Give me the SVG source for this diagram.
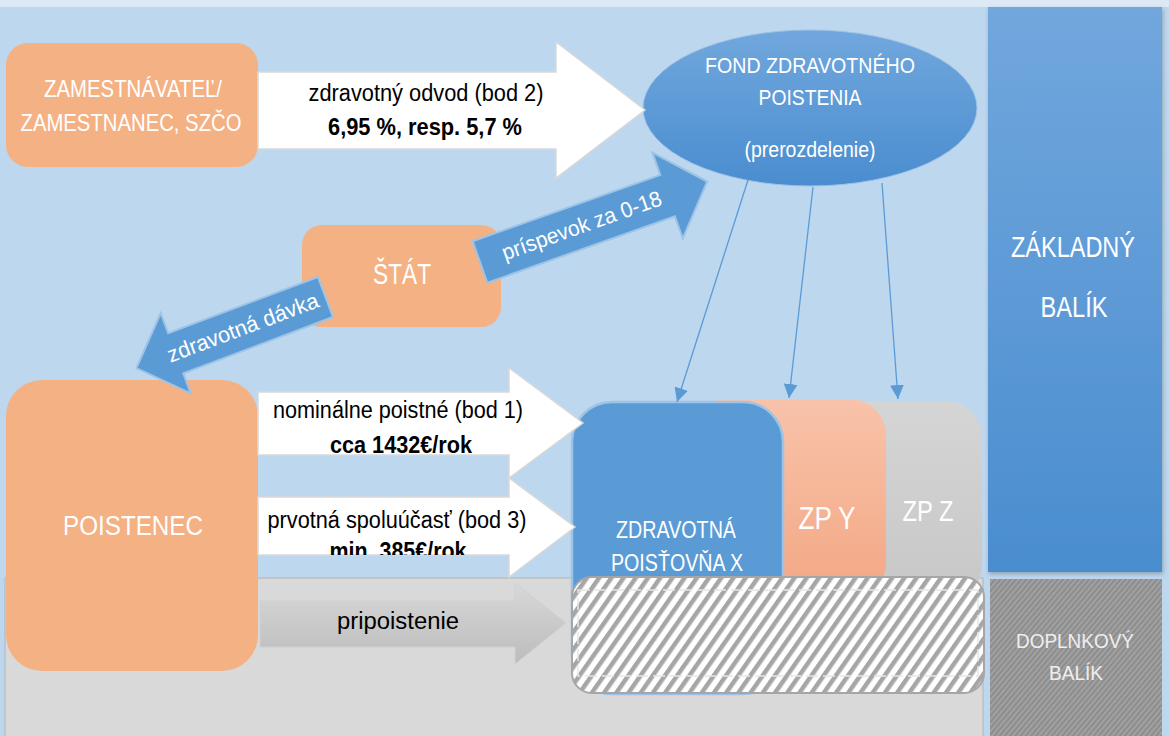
<svg xmlns="http://www.w3.org/2000/svg" width="1169" height="736" viewBox="0 0 1169 736">
<defs>
<style>
.t{font-family:"Liberation Sans Narrow","Liberation Sans",Arial,sans-serif;}
.w{fill:#ffffff;}
.k{fill:#000000;}
.b{font-weight:bold;}
.sal{fill:#f4b183;}
.white-arrow{fill:#ffffff;stroke:#d9d9d9;stroke-width:1.5;}
.blue-arrow{fill:#5b9bd5;stroke:#9dc3e6;stroke-width:2;}
.conn{stroke:#5b9bd5;stroke-width:1.3;fill:none;}
</style>
<linearGradient id="gBlue" x1="0" y1="0" x2="0" y2="1">
<stop offset="0" stop-color="#71a7dd"/><stop offset="1" stop-color="#4a8dcf"/>
</linearGradient>
<linearGradient id="gY" x1="0" y1="0" x2="0" y2="1">
<stop offset="0" stop-color="#f8c3aa"/><stop offset="1" stop-color="#f3a784"/>
</linearGradient>
<linearGradient id="gZ" x1="0" y1="0" x2="0" y2="1">
<stop offset="0" stop-color="#d5d5d5"/><stop offset="1" stop-color="#c7c7c7"/>
</linearGradient>
<linearGradient id="gGray" x1="0" y1="0" x2="0" y2="1">
<stop offset="0" stop-color="#d8d8d8"/><stop offset="1" stop-color="#bcbcbc"/>
</linearGradient>
<pattern id="hatch" width="10" height="10" patternUnits="userSpaceOnUse" patternTransform="rotate(35)">
<rect width="10" height="10" fill="#ffffff"/>
<rect width="4.5" height="10" fill="#a6a6a6"/>
</pattern>
<pattern id="fine" width="4" height="4" patternUnits="userSpaceOnUse" patternTransform="rotate(40)">
<rect width="4" height="4" fill="#8e8e8e"/>
<rect width="1.4" height="4" fill="#a8a8a8"/>
</pattern>
<marker id="ah" markerUnits="userSpaceOnUse" markerWidth="15" markerHeight="14" refX="14" refY="7" orient="auto">
<path d="M0,0 L14,7 L0,14 z" fill="#5b9bd5"/>
</marker>
<filter id="sh" x="-10%" y="-10%" width="120%" height="120%">
<feDropShadow dx="1" dy="2" stdDeviation="2" flood-color="#000000" flood-opacity="0.25"/>
</filter>
<clipPath id="clipMin"><rect x="258" y="497" width="260" height="58"/></clipPath>
</defs>

<!-- background -->
<rect x="0" y="0" width="1169" height="736" fill="#dce9f5"/>
<rect x="0" y="7" width="1169" height="729" fill="#bdd7ee"/>
<rect x="5" y="578" width="978" height="160" fill="#d9d9d9" stroke="#b3b3b3" stroke-width="1"/>

<!-- right columns -->
<g id="zakladny-balik">
<rect x="988" y="7" width="174" height="565" fill="url(#gBlue)" filter="url(#sh)"/>
<text class="t w" x="1073" y="257" font-size="30" text-anchor="middle" textLength="124" lengthAdjust="spacingAndGlyphs">ZÁKLADNÝ</text>
<text class="t w" x="1074" y="317" font-size="30" text-anchor="middle" textLength="67" lengthAdjust="spacingAndGlyphs">BALÍK</text>
</g>
<g id="doplnkovy-balik">
<rect x="990" y="579" width="172" height="160" fill="url(#fine)"/>
<text class="t" fill="#eeeeee" x="1075" y="648" font-size="21" text-anchor="middle" textLength="118" lengthAdjust="spacingAndGlyphs">DOPLNKOVÝ</text>
<text class="t" fill="#eeeeee" x="1076" y="680" font-size="21" text-anchor="middle" textLength="54" lengthAdjust="spacingAndGlyphs">BALÍK</text>
</g>

<!-- nodes -->
<g id="zamestnavatel">
<rect x="6" y="43" width="252" height="124" rx="22" class="sal"/>
<text class="t w" x="133" y="97" font-size="24" text-anchor="middle" textLength="178" lengthAdjust="spacingAndGlyphs">ZAMESTNÁVATEĽ/</text>
<text class="t w" x="131" y="131" font-size="24" text-anchor="middle" textLength="221" lengthAdjust="spacingAndGlyphs">ZAMESTNANEC, SZČO</text>
</g>

<g id="fond">
<ellipse cx="810" cy="108" rx="167" ry="78" fill="url(#gBlue)" stroke="#9dc3e6" stroke-width="1"/>
<text class="t w" x="810" y="73" font-size="22" text-anchor="middle" textLength="210" lengthAdjust="spacingAndGlyphs">FOND ZDRAVOTNÉHO</text>
<text class="t w" x="810" y="105" font-size="22" text-anchor="middle" textLength="103" lengthAdjust="spacingAndGlyphs">POISTENIA</text>
<text class="t w" x="810" y="157" font-size="22" text-anchor="middle" textLength="131" lengthAdjust="spacingAndGlyphs">(prerozdelenie)</text>
</g>

<g id="stat">
<rect x="302" y="225" width="199" height="102" rx="20" class="sal"/>
<text class="t w" x="402" y="284" font-size="29" text-anchor="middle" textLength="58" lengthAdjust="spacingAndGlyphs">ŠTÁT</text>
</g>

<g id="poistenec">
<rect x="6" y="380" width="252" height="291" rx="36" class="sal"/>
<text class="t w" x="133" y="535" font-size="27" text-anchor="middle" textLength="140" lengthAdjust="spacingAndGlyphs">POISTENEC</text>
</g>

<g id="zp-z">
<rect x="790" y="401" width="192" height="200" rx="36" fill="url(#gZ)"/>
<text class="t w" x="928" y="521" font-size="30" text-anchor="middle" textLength="51" lengthAdjust="spacingAndGlyphs">ZP Z</text>
</g>
<g id="zp-y">
<rect x="690" y="399" width="196" height="200" rx="36" fill="url(#gY)"/>
<text class="t w" x="827" y="529" font-size="31" text-anchor="middle" textLength="57" lengthAdjust="spacingAndGlyphs">ZP Y</text>
</g>
<g id="zp-x">
<rect x="572" y="402" width="211" height="292" rx="40" fill="#5b9bd5" stroke="#9dc3e6" stroke-width="2.5"/>
<text class="t w" x="676" y="538" font-size="23" text-anchor="middle" textLength="120" lengthAdjust="spacingAndGlyphs">ZDRAVOTNÁ</text>
<text class="t w" x="677" y="571" font-size="23" text-anchor="middle" textLength="132" lengthAdjust="spacingAndGlyphs">POISŤOVŇA X</text>
</g>

<g id="pripoistenie-box">
<rect x="572" y="577" width="412" height="116" rx="20" fill="url(#hatch)" stroke="#a6a6a6" stroke-width="2"/>
<rect x="578" y="590" width="400" height="86" fill="none" stroke="#e6e6e6" stroke-width="1.5" stroke-dasharray="12 5"/>
</g>

<!-- connectors -->
<g id="connectors">
<g id="arrow-odvod">
<polygon class="white-arrow" points="258,72 556,72 556,42 645,110 556,178 556,149 258,149"/>
<text class="t k" x="426" y="101" font-size="23" text-anchor="middle" textLength="235" lengthAdjust="spacingAndGlyphs">zdravotný odvod (bod 2)</text>
<text class="t k b" x="425" y="135" font-size="23" text-anchor="middle" textLength="194" lengthAdjust="spacingAndGlyphs">6,95 %, resp. 5,7 %</text>
</g>
<g id="arrow-prispevok">
<polygon class="blue-arrow" transform="translate(480,262) rotate(-19.5)" points="0,-22 199,-22 199,-45.5 241,0 199,45.5 199,22 0,22"/>
<text class="t w" transform="translate(480,262) rotate(-19.5)" x="108" y="7" font-size="22" text-anchor="middle" textLength="168" lengthAdjust="spacingAndGlyphs">príspevok za 0-18</text>
</g>
<g id="arrow-davka">
<polygon class="blue-arrow" transform="translate(325.5,297) rotate(159.4)" points="0,-21.4 160,-21.4 160,-42.8 202,0 160,42.8 160,21.4 0,21.4"/>
<text class="t w" transform="translate(243,328) rotate(-20.6)" x="0" y="7" font-size="22" text-anchor="middle" textLength="160" lengthAdjust="spacingAndGlyphs">zdravotná dávka</text>
</g>
<g id="arrow-nominalne">
<polygon class="white-arrow" points="258,392 509,392 509,368 583,423 509,478 509,455 258,455"/>
<text class="t k" x="398" y="418" font-size="23" text-anchor="middle" textLength="250" lengthAdjust="spacingAndGlyphs">nominálne poistné (bod 1)</text>
<text class="t k b" x="401" y="453" font-size="23" text-anchor="middle" textLength="142" lengthAdjust="spacingAndGlyphs">cca 1432€/rok</text>
</g>
<g id="arrow-spoluucast">
<polygon class="white-arrow" points="258,497 509,497 509,478 575,527 509,577 509,555 258,555"/>
<text class="t k" x="397" y="528" font-size="23" text-anchor="middle" textLength="259" lengthAdjust="spacingAndGlyphs">prvotná spoluúčasť (bod 3)</text>
<text class="t k b" x="398" y="559" font-size="23" text-anchor="middle" textLength="137" lengthAdjust="spacingAndGlyphs" clip-path="url(#clipMin)">min. 385€/rok</text>
</g>
<g id="arrow-pripoistenie">
<polygon points="260,601 515,601 515,583 566,623 515,664 515,647 260,647" fill="url(#gGray)" stroke="#d0d0d0" stroke-width="1"/>
<text class="t k" x="398" y="629" font-size="23" text-anchor="middle" textLength="122" lengthAdjust="spacingAndGlyphs">pripoistenie</text>
</g>
<line class="conn" x1="748" y1="180" x2="677" y2="402" marker-end="url(#ah)"/>
<line class="conn" x1="813" y1="187" x2="789" y2="398" marker-end="url(#ah)"/>
<line class="conn" x1="882" y1="183" x2="898" y2="399" marker-end="url(#ah)"/>
</g>
</svg>
